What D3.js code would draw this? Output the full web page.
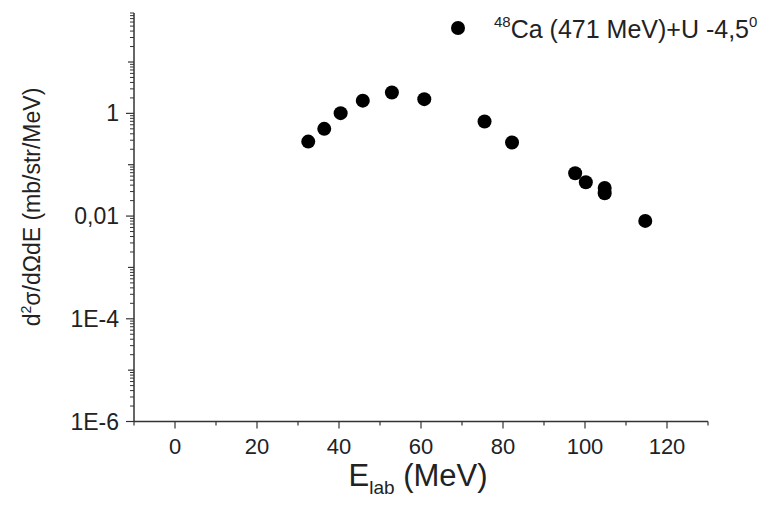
<!DOCTYPE html>
<html>
<head>
<meta charset="utf-8">
<script src="https://cdn.jsdelivr.net/npm/d3@7"></script>
<style>
  body { margin: 0; background: #fff; }
  text { font-family: "Liberation Sans", Arial, sans-serif; fill: #222; }
</style>
</head>
<body>
<svg width="780" height="506"></svg>
<script>
let energies = [32.5, 36.4, 40.4, 45.8, 52.9, 60.8, 75.5, 82.2, 97.6, 100.2, 104.8, 104.8, 114.7];
let crossSections = [0.282, 0.499, 1.01, 1.77, 2.54, 1.89, 0.692, 0.270, 0.0684, 0.0457, 0.0354, 0.0279, 0.00805];
let xTicks = [0, 20, 40, 60, 80, 100, 120];
let yTicks = [1e-6, 1e-4, 1e-2, 1];
let yTickLabels = ['1E-6', '1E-4', '0,01', '1'];

let svg = d3.select('svg');

let xScale = d3.scaleLinear()
                .domain([-10, 130])
                .range([134, 708]);

let yScale = d3.scaleLog()
                .domain([1e-6, 90])
                .range([421.5, 13]);

// x axis: major every 20, minor every 10
let xAxis = svg.append('g').attr('transform', 'translate(0,421.5)');
xAxis.append('line')
    .attr('x1', xScale(-10)).attr('x2', xScale(130))
    .attr('stroke', '#333').attr('stroke-width', 1.5);
xAxis.selectAll('.minor')
    .data(d3.range(-10, 131, 10).filter(v => v % 20 !== 0))
    .enter().append('line')
        .attr('x1', d => xScale(d)).attr('x2', d => xScale(d))
        .attr('y1', 0).attr('y2', 4)
        .attr('stroke', '#333').attr('stroke-width', 1.2);
xAxis.selectAll('.major')
    .data(xTicks)
    .enter().append('line')
        .attr('x1', d => xScale(d)).attr('x2', d => xScale(d))
        .attr('y1', 0).attr('y2', 7)
        .attr('stroke', '#333').attr('stroke-width', 1.2);
xAxis.selectAll('.lbl')
    .data(xTicks)
    .enter().append('text')
        .attr('x', d => xScale(d))
        .attr('y', 32)
        .attr('text-anchor', 'middle')
        .style('font-size', '22px')
        .text(d => d);

// y axis: log with minor ticks
let yAxis = svg.append('g').attr('transform', 'translate(134,0)');
yAxis.append('line')
    .attr('y1', yScale(1e-6)).attr('y2', yScale(90))
    .attr('stroke', '#333').attr('stroke-width', 1.5);
let minors = [];
for (let e = -6; e <= 1; e++) {
  for (let m = 2; m <= 9; m++) {
    let v = m * Math.pow(10, e);
    if (v <= 90) minors.push(v);
  }
}
yAxis.selectAll('.minor')
    .data(minors)
    .enter().append('line')
        .attr('x1', -4).attr('x2', 0)
        .attr('y1', d => yScale(d)).attr('y2', d => yScale(d))
        .attr('stroke', '#333').attr('stroke-width', 1);
yAxis.selectAll('.major')
    .data(d3.range(-6, 2).map(e => Math.pow(10, e)))
    .enter().append('line')
        .attr('x1', d => yTicks.includes(d) ? -8 : -6).attr('x2', 0)
        .attr('y1', d => yScale(d)).attr('y2', d => yScale(d))
        .attr('stroke', '#333').attr('stroke-width', 1.2);
yAxis.selectAll('.lbl')
    .data(yTicks)
    .enter().append('text')
        .attr('x', -15)
        .attr('y', d => yScale(d) + 8)
        .attr('text-anchor', 'end')
        .style('font-size', '23px')
        .text((d, i) => yTickLabels[i]);

// axis titles
let xTitle = svg.append('text')
    .attr('x', 418).attr('y', 486)
    .attr('text-anchor', 'middle')
    .style('font-size', '31px');
xTitle.append('tspan').text('E');
xTitle.append('tspan').attr('dy', 8).style('font-size', '19px').text('lab');
xTitle.append('tspan').attr('dy', -8).text(' (MeV)');

let yTitle = svg.append('text')
    .attr('transform', 'translate(40,207) rotate(-90)')
    .attr('text-anchor', 'middle')
    .style('font-size', '23px');
yTitle.append('tspan').text('d');
yTitle.append('tspan').attr('dy', -9).style('font-size', '14px').text('2');
yTitle.append('tspan').attr('dy', 9).text('σ/dΩdE (mb/str/MeV)');

// data points
svg.selectAll('.pt')
    .data(energies)
    .enter().append('circle')
        .attr('cx', d => xScale(d))
        .attr('cy', (d, i) => yScale(crossSections[i]))
        .attr('r', 7)
        .attr('fill', '#000');

// legend
svg.append('circle')
    .attr('cx', 458).attr('cy', 28).attr('r', 7).attr('fill', '#000');
let leg = svg.append('text')
    .attr('x', 494).attr('y', 38)
    .style('font-size', '25px');
leg.append('tspan').attr('dy', -11).style('font-size', '15px').text('48');
leg.append('tspan').attr('dy', 11).text('Ca (471 MeV)+U -4,5');
leg.append('tspan').attr('dy', -11).style('font-size', '15px').text('0');
</script>
</body>
</html>
